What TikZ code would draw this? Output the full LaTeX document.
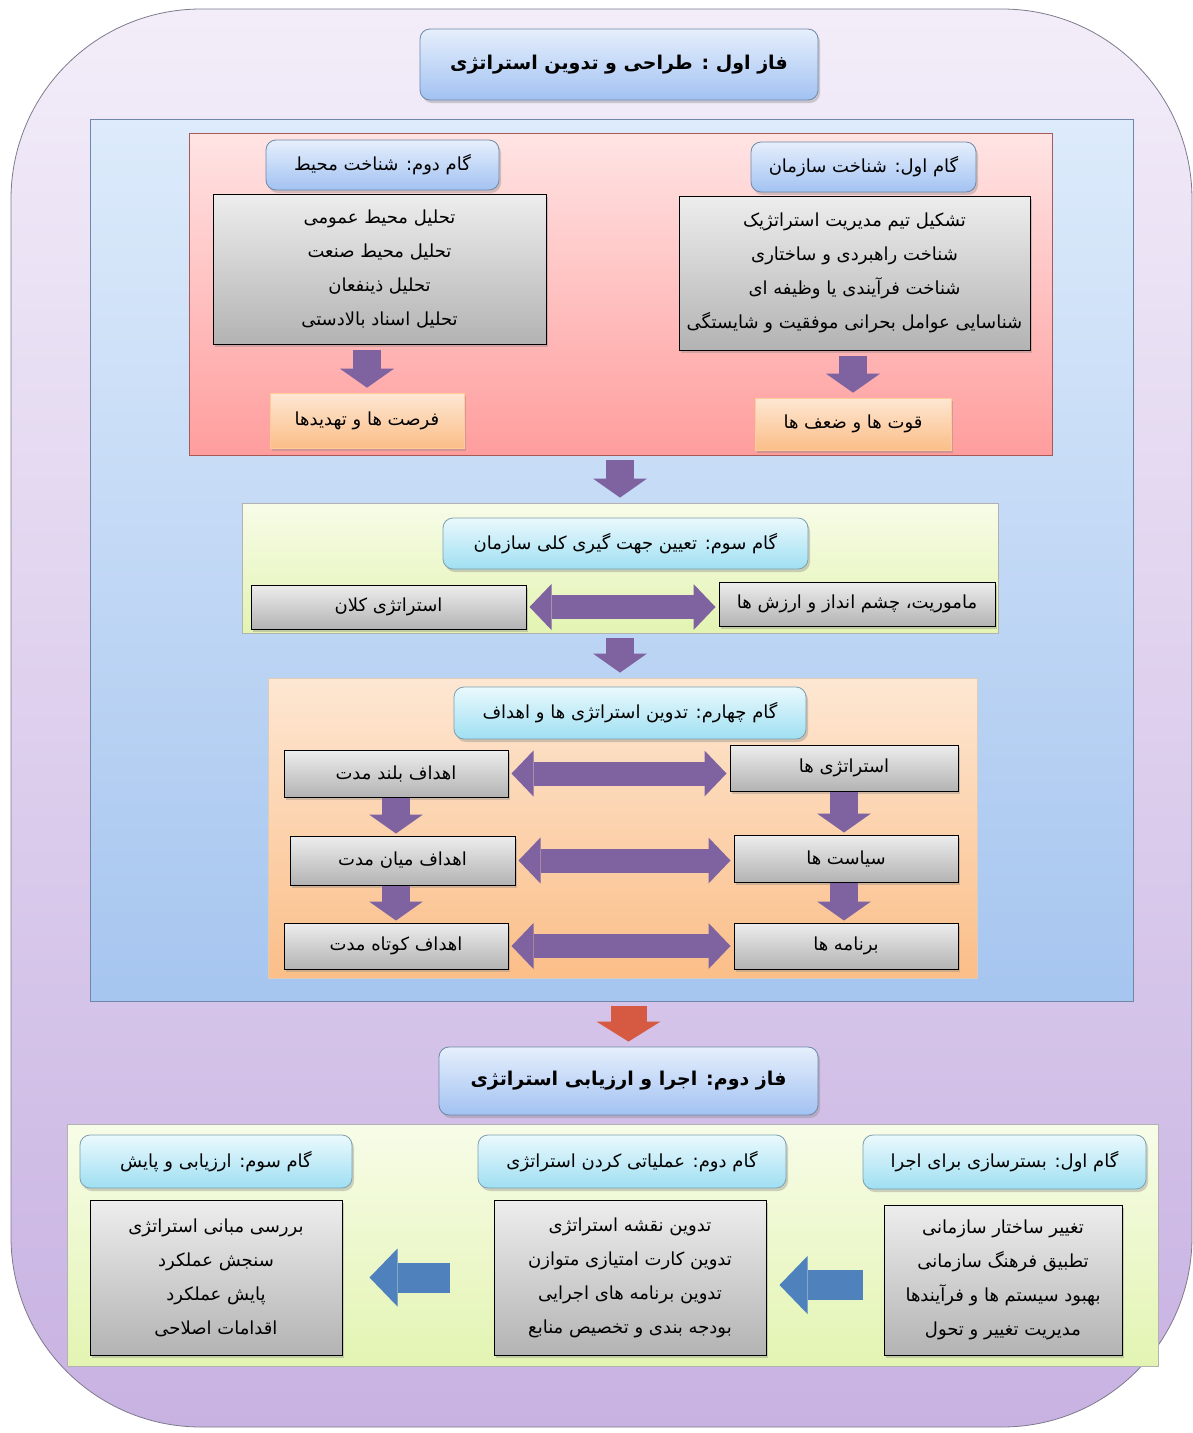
\documentclass[tikz,border=0pt]{standalone}
\usepackage{fontspec}
\newfontfamily\arabicfont[Script=Arabic]{DejaVu Sans}
\TeXXeTstate=1
\usetikzlibrary{arrows.meta,shadows}
\newcommand{\fatxt}[1]{\beginR #1\endR}

\definecolor{outertop}{HTML}{F3EDF9}
\definecolor{outerbot}{HTML}{C8B2E2}
\definecolor{framegray}{HTML}{7E7A8C}
\definecolor{paneltop}{HTML}{DDEBFB}
\definecolor{panelbot}{HTML}{A6C5EF}
\definecolor{panelline}{HTML}{6F88A9}
\definecolor{titletop}{HTML}{E6EFFC}
\definecolor{titlebot}{HTML}{A2C2F2}
\definecolor{pinktop}{HTML}{FFE4E4}
\definecolor{pinkbot}{HTML}{FF9D9D}
\definecolor{greentop}{HTML}{F7FCE8}
\definecolor{greenbot}{HTML}{E3F4B2}
\definecolor{cyantop}{HTML}{EAF9FD}
\definecolor{cyanbot}{HTML}{9FDFF2}
\definecolor{orangetop}{HTML}{FDE7D3}
\definecolor{orangebot}{HTML}{FBBE88}
\definecolor{graytop}{HTML}{EDEDED}
\definecolor{graybot}{HTML}{B3B3B3}
\definecolor{arrowpurple}{HTML}{7F63A1}
\definecolor{arrowred}{HTML}{D65A42}
\definecolor{arrowblue}{HTML}{4F81BD}

\begin{document}
\begin{tikzpicture}[x=1pt,y=-1pt,
  fa/.style={font=\arabicfont\fontsize{18}{34}\selectfont,align=center,inner sep=0pt},
  fatitle/.style={font=\arabicfont\bfseries\fontsize{19}{24}\selectfont,align=center,inner sep=0pt},
  softshadow/.style={drop shadow={opacity=0.35,shadow xshift=2pt,shadow yshift=-3pt}},
  panel/.style={draw=#1,line width=0.8pt,inner sep=0pt},
  titlebox/.style={rounded corners=10pt,draw=#1,line width=0.8pt,softshadow},
  bluehead/.style={titlebox=panelline,top color=titletop,bottom color=titlebot,fa},
  cyanhead/.style={titlebox=cyan!30!gray,top color=cyantop,bottom color=cyanbot,fa},
  graybox/.style={draw=black,line width=1pt,top color=graytop,bottom color=graybot,softshadow,fa},
  orangebox/.style={draw=orange!40!white,line width=0.6pt,top color=orangetop,bottom color=orangebot,softshadow,fa},
  downarrow/.style={draw=arrowpurple,line width=28pt,-{Triangle[width=54pt,length=19pt,line width=0pt]},shorten <=5pt,shorten >=5pt},
  sidearrow/.style={draw=arrowpurple,line width=24pt,{Triangle[width=46pt,length=22pt,line width=0pt]}-{Triangle[width=46pt,length=22pt,line width=0pt]},shorten <=3pt,shorten >=3pt},
  backarrow/.style={draw=arrowblue,line width=30pt,-{Triangle[width=58pt,length=28pt,line width=0pt]}}
]
\useasboundingbox (0,0) rectangle (1192,1433);
\fill[white] (0,0) rectangle (1192,1433);

% Outer frame
\node[draw=framegray,line width=0.8pt,rounded corners=190pt,top color=outertop,bottom color=outerbot,
  minimum width=1181pt,minimum height=1418pt] (frame) at (601.5,718) {};

% Phase one
\node[bluehead,fatitle,minimum width=398pt,minimum height=71pt] (phaseone) at (619,64.5)
  {\fatxt{فاز اول : طراحی و تدوین استراتژی}};
\node[panel=panelline,top color=paneltop,bottom color=panelbot,minimum width=1043pt,minimum height=882pt] (design) at (611.5,560) {};

% Step one and two
\node[panel=red!30!gray,top color=pinktop,bottom color=pinkbot,minimum width=863pt,minimum height=322pt] (analysis) at (620.5,294) {};
\node[bluehead,minimum width=233pt,minimum height=50pt] (envhead) at (382.5,165) {\fatxt{گام دوم: شناخت محیط}};
\node[graybox,minimum width=333pt,minimum height=150pt] (envlist) at (379.5,269)
  {\fatxt{تحلیل محیط عمومی}\\ \fatxt{تحلیل محیط صنعت}\\ \fatxt{تحلیل ذینفعان}\\ \fatxt{تحلیل اسناد بالادستی}};
\node[orangebox,minimum width=194pt,minimum height=55pt] (threats) at (367,420.5) {\fatxt{فرصت ها و تهدیدها}};
\node[bluehead,minimum width=225pt,minimum height=50pt] (orghead) at (863.5,167) {\fatxt{گام اول: شناخت سازمان}};
\node[graybox,minimum width=351pt,minimum height=154pt] (orglist) at (854.5,273)
  {\fatxt{تشکیل تیم مدیریت استراتژیک}\\ \fatxt{شناخت راهبردی و ساختاری}\\ \fatxt{شناخت فرآیندی یا وظیفه ای}\\ \fatxt{شناسایی عوامل بحرانی موفقیت و شایستگی}};
\node[orangebox,minimum width=196pt,minimum height=52pt] (strengths) at (853,424) {\fatxt{قوت ها و ضعف ها}};
\draw[downarrow] (envlist.south -| threats.north) -- (threats.north);
\draw[downarrow] (orglist.south -| strengths.north) -- (strengths.north);

% Step three
\node[panel=gray!60,top color=greentop,bottom color=greenbot,minimum width=756pt,minimum height=130pt] (orient) at (620,568) {};
\node[cyanhead,minimum width=365pt,minimum height=51pt] (orienthead) at (625.5,543.5) {\fatxt{گام سوم: تعیین جهت گیری کلی سازمان}};
\node[graybox,minimum width=275pt,minimum height=44pt] (grand) at (388.5,607) {\fatxt{استراتژی کلان}};
\node[graybox,minimum width=276pt,minimum height=44pt] (mission) at (857,604) {\fatxt{ماموریت، چشم انداز و ارزش ها}};
\draw[downarrow] (analysis.south -| orient.north) -- (orient.north);
\draw[sidearrow] (grand.east) -- (grand.east -| mission.west);

% Step four
\node[panel=orange!30!gray!40,top color=orangetop,bottom color=orangebot,minimum width=709pt,minimum height=300pt] (goals) at (622.5,828) {};
\node[cyanhead,minimum width=352pt,minimum height=52pt] (goalhead) at (630,713) {\fatxt{گام چهارم: تدوین استراتژی ها و اهداف}};
\node[graybox,minimum width=224pt,minimum height=47pt] (longgoal) at (396,773.5) {\fatxt{اهداف بلند مدت}};
\node[graybox,minimum width=225pt,minimum height=49pt] (midgoal) at (402.5,860.5) {\fatxt{اهداف میان مدت}};
\node[graybox,minimum width=224pt,minimum height=46pt] (shortgoal) at (396,946) {\fatxt{اهداف کوتاه مدت}};
\node[graybox,minimum width=228pt,minimum height=46pt] (strats) at (844,768) {\fatxt{استراتژی ها}};
\node[graybox,minimum width=224pt,minimum height=47pt] (policies) at (846,858.5) {\fatxt{سیاست ها}};
\node[graybox,minimum width=224pt,minimum height=46pt] (programs) at (846,946) {\fatxt{برنامه ها}};
\draw[downarrow] (orient.south) -- (orient.south |- goals.north);
\draw[sidearrow] (longgoal.east) -- (longgoal.east -| strats.west);
\draw[sidearrow] (midgoal.east) -- (midgoal.east -| policies.west);
\draw[sidearrow] (shortgoal.east) -- (shortgoal.east -| programs.west);
\draw[downarrow,shorten <=0pt,shorten >=2pt] (longgoal.south) -- (longgoal.south |- midgoal.north);
\draw[downarrow,shorten <=0pt,shorten >=2pt] (midgoal.south -| longgoal.south) -- (shortgoal.north);
\draw[downarrow,shorten <=0pt,shorten >=2pt] (strats.south) -- (strats.south |- policies.north);
\draw[downarrow,shorten <=0pt,shorten >=2pt] (policies.south -| strats.south) -- (strats.south |- programs.north);

% Phase two
\node[bluehead,fatitle,minimum width=379pt,minimum height=68pt] (phasetwo) at (628.5,1081)
  {\fatxt{فاز دوم: اجرا و ارزیابی استراتژی}};
\draw[downarrow,draw=arrowred,line width=36pt,-{Triangle[width=64pt,length=20pt,line width=0pt]}] (design.south -| phasetwo.north) -- (phasetwo.north);
\node[panel=gray!60,top color=greentop,bottom color=greenbot,minimum width=1091pt,minimum height=242pt] (execution) at (612.5,1245) {};
\node[cyanhead,minimum width=272pt,minimum height=53pt] (evalhead) at (216,1161.5) {\fatxt{گام سوم: ارزیابی  و پایش}};
\node[cyanhead,minimum width=308pt,minimum height=53pt] (operhead) at (632,1161.5) {\fatxt{گام دوم: عملیاتی کردن استراتژی}};
\node[cyanhead,minimum width=283pt,minimum height=54pt] (prephead) at (1004.5,1162) {\fatxt{گام اول: بسترسازی برای اجرا}};
\node[graybox,minimum width=252pt,minimum height=155pt] (evallist) at (216,1277.5)
  {\fatxt{بررسی مبانی استراتژی}\\ \fatxt{سنجش عملکرد}\\ \fatxt{پایش عملکرد}\\ \fatxt{اقدامات اصلاحی}};
\node[graybox,minimum width=272pt,minimum height=155pt] (operlist) at (630,1277.5)
  {\fatxt{تدوین نقشه استراتژی}\\ \fatxt{تدوین کارت امتیازی متوازن}\\ \fatxt{تدوین برنامه های اجرایی}\\ \fatxt{بودجه بندی و تخصیص منابع}};
\node[graybox,minimum width=238pt,minimum height=150pt] (preplist) at (1003,1280)
  {\fatxt{تغییر ساختار سازمانی}\\ \fatxt{تطبیق فرهنگ سازمانی}\\ \fatxt{بهبود سیستم ها و فرآیندها}\\ \fatxt{مدیریت تغییر و تحول}};
\draw[backarrow,shorten <=21pt,shorten >=13pt] ([yshift=-5pt]preplist.west) -- ([yshift=-5pt]preplist.west -| operlist.east);
\draw[backarrow,shorten <=44pt,shorten >=27pt] (operlist.west) -- (operlist.west -| evallist.east);
\end{tikzpicture}
\end{document}
